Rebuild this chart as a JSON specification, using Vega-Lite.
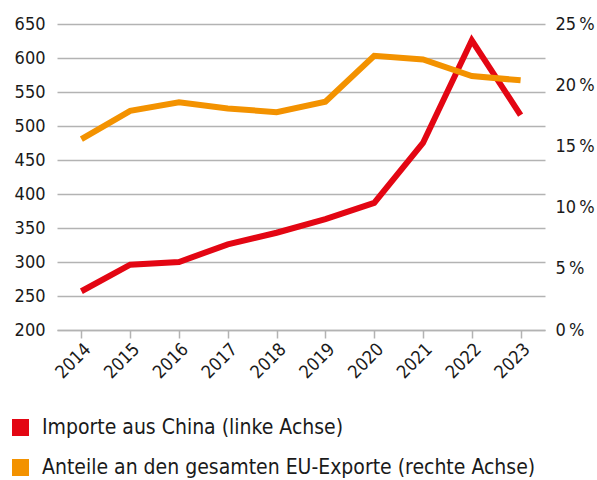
{
  "$schema": "https://vega.github.io/schema/vega-lite/v6.json",
  "width": 488,
  "height": 306,
  "autosize": "none",
  "padding": {"left": 57, "top": 24, "right": 52, "bottom": 150},
  "background": "white",
  "config": {
    "view": {"stroke": null},
    "font": "DejaVu Sans Condensed",
    "axis": {"labelFont": "DejaVu Sans Condensed", "labelColor": "#1a1a1a", "labelFontSize": 18},
    "legend": {"labelFont": "DejaVu Sans Condensed"}
  },
  "data": {
    "values": [
      {"year": "2014", "series": "Importe aus China (linke Achse)", "value": 257},
      {"year": "2015", "series": "Importe aus China (linke Achse)", "value": 296},
      {"year": "2016", "series": "Importe aus China (linke Achse)", "value": 300},
      {"year": "2017", "series": "Importe aus China (linke Achse)", "value": 326},
      {"year": "2018", "series": "Importe aus China (linke Achse)", "value": 343},
      {"year": "2019", "series": "Importe aus China (linke Achse)", "value": 363},
      {"year": "2020", "series": "Importe aus China (linke Achse)", "value": 387},
      {"year": "2021", "series": "Importe aus China (linke Achse)", "value": 475},
      {"year": "2022", "series": "Importe aus China (linke Achse)", "value": 626},
      {"year": "2023", "series": "Importe aus China (linke Achse)", "value": 516},
      {"year": "2014", "series": "Anteile an den gesamten EU-Exporte (rechte Achse)", "value": 15.6},
      {"year": "2015", "series": "Anteile an den gesamten EU-Exporte (rechte Achse)", "value": 17.9},
      {"year": "2016", "series": "Anteile an den gesamten EU-Exporte (rechte Achse)", "value": 18.6},
      {"year": "2017", "series": "Anteile an den gesamten EU-Exporte (rechte Achse)", "value": 18.1},
      {"year": "2018", "series": "Anteile an den gesamten EU-Exporte (rechte Achse)", "value": 17.8},
      {"year": "2019", "series": "Anteile an den gesamten EU-Exporte (rechte Achse)", "value": 18.65},
      {"year": "2020", "series": "Anteile an den gesamten EU-Exporte (rechte Achse)", "value": 22.4},
      {"year": "2021", "series": "Anteile an den gesamten EU-Exporte (rechte Achse)", "value": 22.1},
      {"year": "2022", "series": "Anteile an den gesamten EU-Exporte (rechte Achse)", "value": 20.75},
      {"year": "2023", "series": "Anteile an den gesamten EU-Exporte (rechte Achse)", "value": 20.4}
    ]
  },
  "encoding": {
    "x": {
      "field": "year", "type": "ordinal", "title": null,
      "scale": {"type": "point", "padding": 0.5},
      "axis": {"labelAngle": -45, "domain": true, "domainColor": "#b3b3b3", "domainWidth": 1.5, "ticks": true, "tickColor": "#b3b3b3", "tickWidth": 1.5, "tickSize": 8, "grid": false, "labelPadding": 2}
    },
    "color": {
      "field": "series", "type": "nominal",
      "scale": {"domain": ["Importe aus China (linke Achse)", "Anteile an den gesamten EU-Exporte (rechte Achse)"], "range": ["#e30613", "#f39200"]},
      "legend": {
        "orient": "none", "legendX": -47, "legendY": 393, "title": null,
        "symbolType": "square", "symbolSize": 289, "labelFontSize": 21, "labelColor": "#1a1a1a", "labelOffset": 11, "rowPadding": 18, "padding": 0, "labelLimit": 600,
        "encode": {"symbols": {"update": {"fill": {"scale": "color", "field": "value"}, "strokeWidth": {"value": 0}, "fillOpacity": {"value": 1}}}}
      }
    }
  },
  "layer": [
    {
      "transform": [{"filter": "datum.series === 'Importe aus China (linke Achse)'"}],
      "mark": {"type": "line", "strokeWidth": 6, "strokeCap": "butt", "strokeJoin": "miter"},
      "encoding": {
        "y": {
          "field": "value", "type": "quantitative", "title": null,
          "scale": {"domain": [200, 650], "nice": false, "zero": false},
          "axis": {"values": [200, 250, 300, 350, 400, 450, 500, 550, 600, 650], "orient": "left", "domain": false, "ticks": false, "grid": true, "gridColor": "#b3b3b3", "gridWidth": 1.5, "labelPadding": 12}
        }
      }
    },
    {
      "transform": [{"filter": "datum.series !== 'Importe aus China (linke Achse)'"}],
      "mark": {"type": "line", "strokeWidth": 6, "strokeCap": "butt", "strokeJoin": "miter"},
      "encoding": {
        "y": {
          "field": "value", "type": "quantitative", "title": null,
          "scale": {"domain": [0, 25], "nice": false},
          "axis": {"values": [0, 5, 10, 15, 20, 25], "orient": "right", "domain": false, "ticks": false, "grid": false, "labelPadding": 10, "labelExpr": "datum.value + '\u2009%'"}
        }
      }
    }
  ],
  "resolve": {"scale": {"y": "independent"}}
}
